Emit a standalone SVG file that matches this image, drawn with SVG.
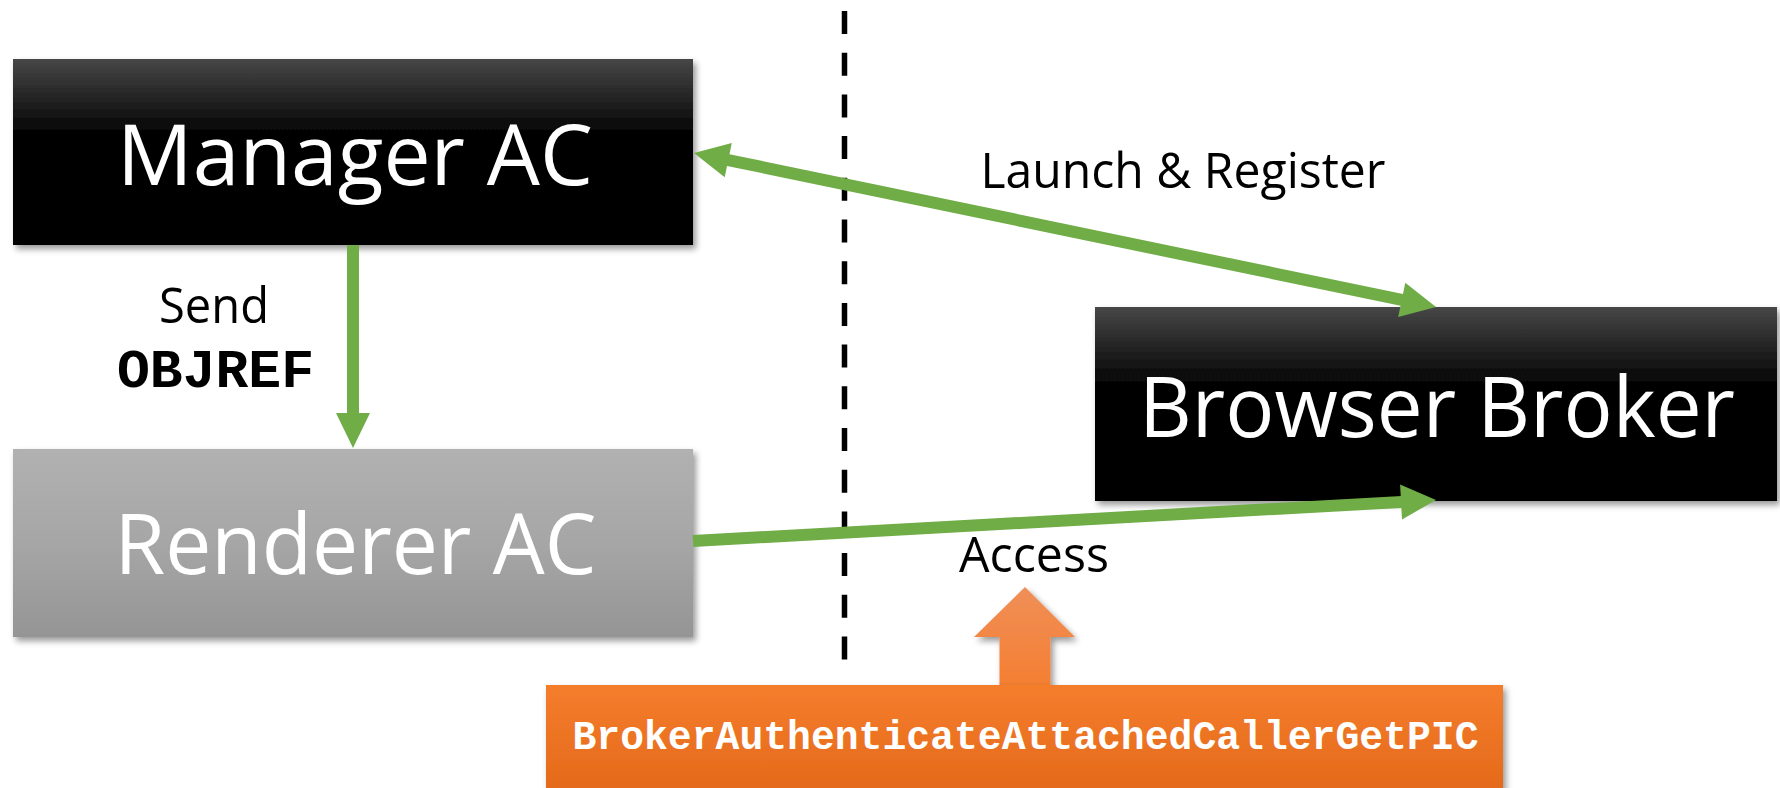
<svg xmlns="http://www.w3.org/2000/svg" width="1780" height="788" viewBox="0 0 1780 788">
  <style>
    .title { font-family: "Open Sans", "Liberation Sans", sans-serif; font-size: 85px; fill: #ffffff; text-anchor: middle; }
    .label { font-family: "Open Sans", "Liberation Sans", sans-serif; font-size: 49px; fill: #000000; text-anchor: middle; }
    .code { font-family: "Courier New", "Nimbus Mono PS", "FreeMono", "Liberation Mono", monospace; font-weight: bold; text-anchor: middle; }
    .link { stroke: #70AD47; stroke-width: 12; fill: none; }
    .head { fill: #70AD47; }
  </style>
  <defs>
    <linearGradient id="darkFill" x1="0" y1="0" x2="0" y2="1">
      <stop offset="0" stop-color="#474747"/>
      <stop offset="0.42" stop-color="#000000"/>
      <stop offset="1" stop-color="#000000"/>
    </linearGradient>
    <linearGradient id="greyFill" x1="0" y1="0" x2="0" y2="1">
      <stop offset="0" stop-color="#b1b1b1"/>
      <stop offset="0.5" stop-color="#a6a6a6"/>
      <stop offset="1" stop-color="#959595"/>
    </linearGradient>
    <linearGradient id="orangeFill" x1="0" y1="0" x2="0" y2="1">
      <stop offset="0" stop-color="#F47D2C"/>
      <stop offset="1" stop-color="#E4691A"/>
    </linearGradient>
    <linearGradient id="orangeArrowFill" x1="0" y1="0" x2="0" y2="1">
      <stop offset="0" stop-color="#F08F58"/>
      <stop offset="1" stop-color="#F47E30"/>
    </linearGradient>
    <filter id="shadow" x="-5%" y="-10%" width="110%" height="125%">
      <feDropShadow dx="3" dy="4" stdDeviation="3" flood-color="#000000" flood-opacity="0.4"/>
    </filter>
  </defs>

  <rect width="1780" height="788" fill="#ffffff"/>

  <!-- trust boundary -->
  <line id="boundary" x1="844.5" y1="11" x2="844.5" y2="660" stroke="#000000" stroke-width="5.5" stroke-dasharray="23 18.7"/>

  <g id="manager-ac" filter="url(#shadow)">
    <rect x="13" y="59" width="680" height="186" fill="url(#darkFill)"/>
    <text class="title" x="355" y="185" textLength="476" lengthAdjust="spacingAndGlyphs">Manager AC</text>
  </g>

  <g id="renderer-ac" filter="url(#shadow)">
    <rect x="13" y="449" width="680" height="188" fill="url(#greyFill)"/>
    <text class="title" x="355.5" y="574" textLength="482" lengthAdjust="spacingAndGlyphs">Renderer AC</text>
  </g>

  <g id="browser-broker" filter="url(#shadow)">
    <rect x="1095" y="307" width="682" height="194" fill="url(#darkFill)"/>
    <text class="title" x="1437" y="437" textLength="596" lengthAdjust="spacingAndGlyphs">Browser Broker</text>
  </g>

  <g id="broker-api">
    <polygon points="1025,587 1075,637 1050.5,637 1050.5,690 999.5,690 999.5,637 974,637" fill="url(#orangeArrowFill)" filter="url(#shadow)"/>
    <rect x="546" y="685" width="957" height="110" fill="url(#orangeFill)" filter="url(#shadow)"/>
    <text class="code" x="1025.5" y="749" font-size="40" fill="#ffffff" textLength="906" lengthAdjust="spacingAndGlyphs">BrokerAuthenticateAttachedCallerGetPIC</text>
  </g>

  <g id="connectors">
    <!-- Manager AC -> Renderer AC -->
    <line class="link" x1="353" y1="245" x2="353" y2="414"/>
    <polygon class="head" points="336,413 370,413 353,448"/>

    <!-- Manager AC <-> Browser Broker -->
    <line class="link" x1="727" y1="159.8" x2="1403" y2="300.2"/>
    <polygon class="head" points="694,153 731.8,143 724.7,177.2"/>
    <polygon class="head" points="1436,307 1398.2,317 1405.3,282.8"/>

    <!-- Renderer AC -> Browser Broker -->
    <line class="link" x1="693" y1="541" x2="1402" y2="501.9"/>
    <polygon class="head" points="1436,500 1400.1,484.5 1402,519.4"/>
  </g>

  <g id="labels">
    <text class="label" x="214" y="323" textLength="110" lengthAdjust="spacingAndGlyphs">Send</text>
    <text class="code" x="215.5" y="387" font-size="53" fill="#000000" textLength="197" lengthAdjust="spacingAndGlyphs">OBJREF</text>
    <text class="label" x="1183" y="188" textLength="405" lengthAdjust="spacingAndGlyphs">Launch &amp; Register</text>
    <text class="label" x="1034" y="571.5" textLength="150" lengthAdjust="spacingAndGlyphs">Access</text>
  </g>
</svg>
